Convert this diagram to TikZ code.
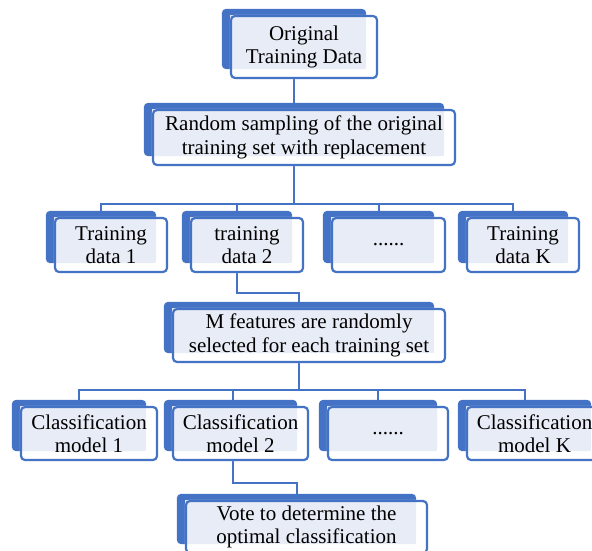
\documentclass[tikz,border=0pt]{standalone}
\usepackage{fontspec}
\setmainfont{Liberation Serif}
\definecolor{darkb}{HTML}{4472C4}
\definecolor{lightb}{HTML}{E9EDF7}
\pgfdeclarelayer{conn}
\pgfdeclarelayer{bg}
\pgfsetlayers{conn,bg,main}
\tikzset{
  fbox/.style={draw=darkb, line width=2.2pt, rounded corners=4pt, inner sep=0pt,
    align=center, font=\fontsize{21}{23.5}\selectfont, text=black},
  conn/.style={draw=darkb, line width=2pt},
}
\newcommand\boxback[1]{%
  \fill[darkb, rounded corners=4pt] ([xshift=-8pt,yshift=6pt]#1.north west) rectangle ([xshift=-12pt,yshift=10pt]#1.south east);
  \fill[white, fill opacity=0.82, rounded corners=4pt] (#1.north west) rectangle (#1.south east);
  \fill[lightb, fill opacity=0.92] (#1.north west) rectangle ([xshift=-12pt,yshift=10pt]#1.south east);
}
\begin{document}
\begin{tikzpicture}[x=1pt,y=-1pt]
\useasboundingbox (0,0) rectangle (592,551);
% nodes (front boxes)
\node[fbox, minimum width=146pt, minimum height=62pt] (b1) at (304,47) {Original\\Training Data};
\node[fbox, minimum width=302pt, minimum height=55pt] (b2) at (304,137.5) {Random sampling of the original\\training set with replacement};
\node[fbox, minimum width=112pt, minimum height=54pt] (t1) at (111,245) {Training\\data 1};
\node[fbox, minimum width=112pt, minimum height=54pt] (t2) at (247,245) {training\\data 2};
\node[fbox, minimum width=113pt, minimum height=54pt] (t3) at (388.5,245) {......};
\node[fbox, minimum width=112pt, minimum height=54pt] (tK) at (523,245) {Training\\data K};
\node[fbox, minimum width=272pt, minimum height=53pt] (m) at (309,335.5) {M features are randomly\\selected for each training set};
\node[fbox, minimum width=136pt, minimum height=53pt] (c1) at (89,433.5) {Classification\\model 1};
\node[fbox, minimum width=135pt, minimum height=53pt] (c2) at (240.5,433.5) {Classification\\model 2};
\node[fbox, minimum width=120pt, minimum height=53pt] (c3) at (388,433.5) {......};
\node[fbox, minimum width=135pt, minimum height=53pt] (cK) at (534.5,433.5) {Classification\\model K};
\node[fbox, minimum width=241pt, minimum height=52pt] (v) at (306.5,527) {Vote to determine the\\optimal classification};
% helper coordinates
\coordinate (bus1) at (0,204);
\coordinate (bend1) at (0,293);
\coordinate (bus2) at (0,390);
\coordinate (bend2) at (0,483);
% box backgrounds
\begin{pgfonlayer}{bg}
\foreach \n in {b1,b2,t1,t2,t3,tK,m,c1,c2,c3,cK,v} {\boxback{\n}}
\end{pgfonlayer}
% connectors
\begin{pgfonlayer}{conn}
\draw[conn] ([xshift=-10pt]b1.south) -- ([xshift=-10pt]b2.north);
\draw[conn] ([xshift=-10pt]b2.south) -- ([xshift=-10pt]b2.south |- bus1);
\draw[conn] ([xshift=-10pt]t1.north) -- ([xshift=-10pt]t1.north |- bus1) -- ([xshift=-10pt]tK.north |- bus1) -- ([xshift=-10pt]tK.north);
\draw[conn] ([xshift=-10pt]t2.north) -- ([xshift=-10pt]t2.north |- bus1);
\draw[conn] ([xshift=-10pt]t3.north) -- ([xshift=-10pt]t3.north |- bus1);
\draw[conn] ([xshift=-10pt]t2.south) -- ([xshift=-10pt]t2.south |- bend1) -- ([xshift=-10pt]m.north |- bend1) -- ([xshift=-10pt]m.north);
\draw[conn] ([xshift=-10pt]m.south) -- ([xshift=-10pt]m.south |- bus2);
\draw[conn] ([xshift=-10pt]c1.north) -- ([xshift=-10pt]c1.north |- bus2) -- ([xshift=-10pt]cK.north |- bus2) -- ([xshift=-10pt]cK.north);
\draw[conn] ([xshift=-8pt]c2.north) -- ([xshift=-8pt]c2.north |- bus2);
\draw[conn] ([xshift=-10pt]c3.north) -- ([xshift=-10pt]c3.north |- bus2);
\draw[conn] ([xshift=-8pt]c2.south) -- ([xshift=-8pt]c2.south |- bend2) -- ([xshift=-10pt]v.north |- bend2) -- ([xshift=-10pt]v.north);
\end{pgfonlayer}
\end{tikzpicture}
\end{document}
